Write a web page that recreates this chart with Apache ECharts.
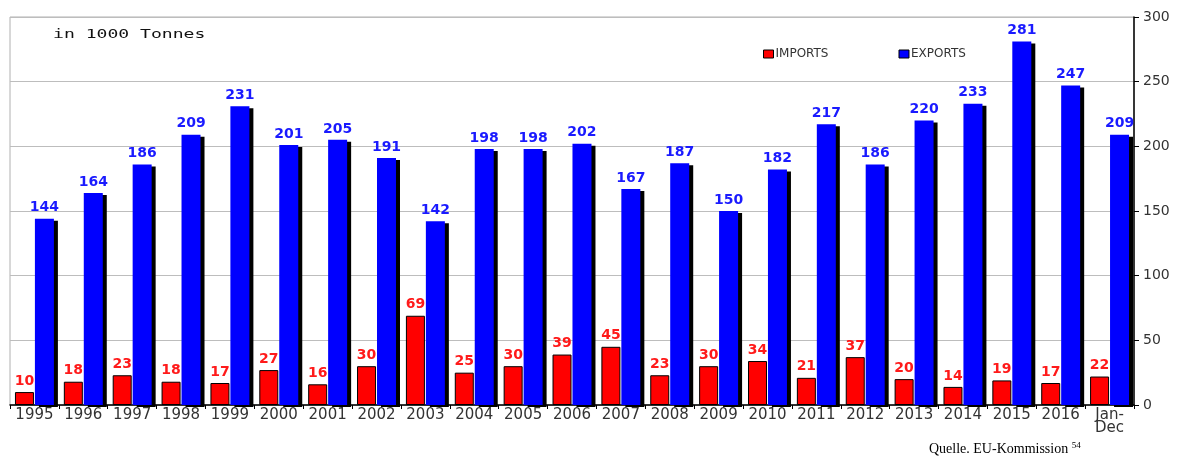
<!DOCTYPE html>
<html>
<head>
<meta charset="utf-8">
<script src="https://cdn.jsdelivr.net/npm/echarts@6/dist/echarts.min.js"></script>
<style>
  html, body { margin: 0; padding: 0; background: #fff; }
  #main { width: 1182px; height: 457px; }
</style>
</head>
<body>
<div id="main"></div>
<script>
var years = ['1995','1996','1997','1998','1999','2000','2001','2002','2003','2004','2005','2006',
  '2007','2008','2009','2010','2011','2012','2013','2014','2015','2016','Jan-\nDec'];
var imports = [10,18,23,18,17,27,16,30,69,25,30,39,45,23,30,34,21,37,20,14,19,17,22];
var exports = [144,164,186,209,231,201,205,191,142,198,198,202,167,187,150,182,217,186,220,233,281,247,209];
var yTicks = { min: 0, max: 300, step: 50 };

var myChart = echarts.init(document.getElementById('main'));

var barLabel = function (color) {
  return {
    show: true,
    position: 'top',
    distance: 4,
    color: color,
    fontFamily: 'DejaVu Sans',
    fontWeight: 'bold',
    fontSize: 14
  };
};

var option = {
  backgroundColor: '#fff',
  animation: false,
  grid: {
    left: 10, right: 48, top: 17, bottom: 52,
    show: true, borderColor: '#b0b0b0', borderWidth: 1
  },
  legend: {
    data: ['IMPORTS', 'EXPORTS'],
    left: 758, top: 43,
    itemWidth: 10, itemHeight: 8, itemGap: 70,
    icon: 'rect',
    itemStyle: { borderColor: '#000', borderWidth: 1, shadowBlur: 0, shadowOffsetX: 0, shadowOffsetY: 0 },
    textStyle: { fontFamily: 'DejaVu Sans', fontSize: 12, color: '#333', padding: [0, 0, 0, -3] }
  },
  graphic: [
    {
      type: 'text', left: 53, top: 28, scaleX: 1.39,
      style: { text: 'in 1000 Tonnes', fontFamily: 'DejaVu Sans Mono', fontSize: 13, fill: '#111' }
    },
    {
      type: 'text', left: 929, top: 441,
      style: {
        text: '{a|Quelle. EU-Kommission }{b|54}',
        rich: {
          a: { fontFamily: 'Liberation Serif', fontSize: 14, fill: '#000', color: '#000' },
          b: { fontFamily: 'Liberation Serif', fontSize: 9, fill: '#000', color: '#000', verticalAlign: 'top', padding: [0, 0, 8, 0] }
        }
      }
    }
  ],
  xAxis: {
    type: 'category',
    data: years,
    axisLine: { show: true, lineStyle: { color: '#000', width: 1.5 } },
    axisTick: { show: true, alignWithLabel: false, length: 4, lineStyle: { color: '#000' } },
    axisLabel: {
      color: '#333', fontFamily: 'DejaVu Sans', fontSize: 15, margin: 4, interval: 0,
      lineHeight: 13
    },
    splitLine: { show: false }
  },
  yAxis: {
    type: 'value',
    position: 'right',
    min: yTicks.min, max: yTicks.max, interval: yTicks.step,
    axisLine: { show: true, lineStyle: { color: '#000', width: 1.5 } },
    axisTick: { show: true, length: 5, lineStyle: { color: '#000' } },
    axisLabel: { color: '#333', fontFamily: 'DejaVu Sans', fontSize: 14, margin: 9 },
    splitLine: { show: true, lineStyle: { color: '#bdbdbd', width: 1 } }
  },
  series: [
    {
      name: 'IMPORTS', type: 'bar', data: imports,
      barWidth: 19, barGap: '5%',
      itemStyle: { color: '#ff0000', borderColor: '#000', borderWidth: 1 },
      label: barLabel('#ff1a1a')
    },
    {
      name: 'EXPORTS', type: 'bar', data: exports,
      barWidth: 19,
      itemStyle: {
        color: '#0000ff', borderWidth: 0,
        shadowColor: '#000', shadowBlur: 0, shadowOffsetX: 4, shadowOffsetY: 2
      },
      label: barLabel('#1a1aff')
    }
  ]
};
myChart.setOption(option);
</script>
</body>
</html>
